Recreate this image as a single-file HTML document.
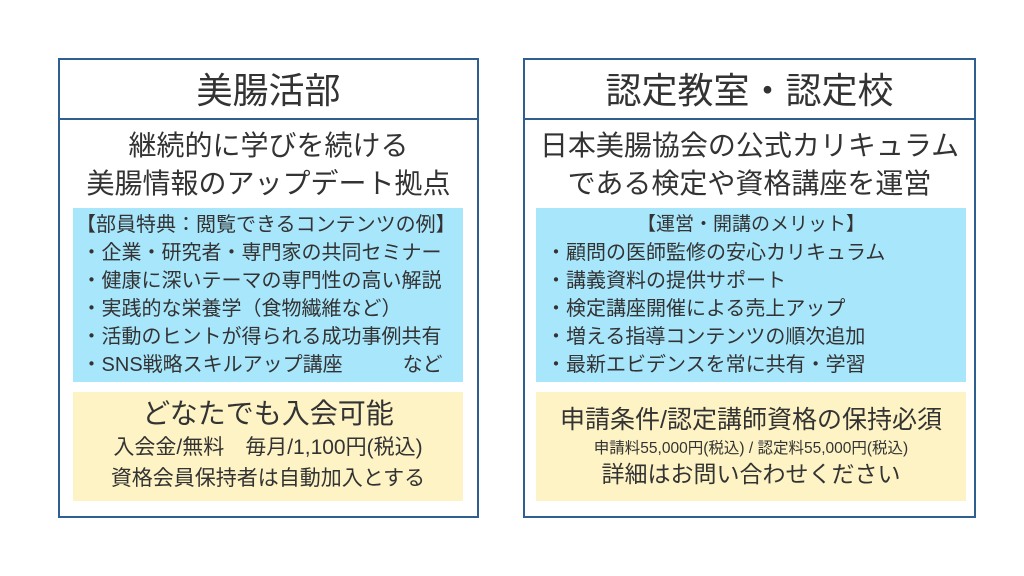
<!DOCTYPE html><html><head><meta charset="utf-8"><style>
body{margin:0;width:1024px;height:576px;background:#fff;position:relative;overflow:hidden;font-family:"Liberation Sans","Noto Sans CJK JP",sans-serif;color:#333}
.b{position:absolute;border:2px solid #2f5f8f;box-sizing:border-box}
.d{position:absolute;height:2px;background:#2f5f8f}
.t{position:absolute;white-space:nowrap}
.c{text-align:center}
.blue{position:absolute;background:#a8e6fb}
.yel{position:absolute;background:#fdf3c4}
</style></head><body>
<div class="b" style="left:58px;top:58px;width:421px;height:460px"></div>
<div class="d" style="left:60px;top:118px;width:417px"></div>
<div class="t c" style="left:58px;width:421px;top:67px;font-size:36px;line-height:48px">美腸活部</div>
<div class="t c" style="left:58px;width:421px;top:127px;font-size:28px;line-height:38px">継続的に学びを続ける<br>美腸情報のアップデート拠点</div>
<div class="blue" style="left:73px;top:208px;width:390px;height:174px"></div>
<div class="t" style="left:76px;top:211px;font-size:20px;line-height:28px">【部員特典：閲覧できるコンテンツの例】<br>&nbsp;・企業・研究者・専門家の共同セミナー<br>&nbsp;・健康に深いテーマの専門性の高い解説<br>&nbsp;・実践的な栄養学（食物繊維など）<br>&nbsp;・活動のヒントが得られる成功事例共有<br>&nbsp;・SNS戦略スキルアップ講座　　　など</div>
<div class="yel" style="left:73px;top:392px;width:390px;height:109px"></div>
<div class="t c" style="left:73px;width:390px;top:397px;font-size:28px;line-height:34px">どなたでも入会可能</div>
<div class="t c" style="left:73px;width:390px;top:432px;font-size:21px;line-height:31px">入会金/無料　毎月/1,100円(税込)<br>資格会員保持者は自動加入とする</div>

<div class="b" style="left:523px;top:58px;width:453px;height:460px"></div>
<div class="d" style="left:525px;top:118px;width:449px"></div>
<div class="t c" style="left:523px;width:453px;top:67px;font-size:36px;line-height:48px">認定教室・認定校</div>
<div class="t c" style="left:523px;width:453px;top:127px;font-size:28px;line-height:38px">日本美腸協会の公式カリキュラム<br>である検定や資格講座を運営</div>
<div class="blue" style="left:536px;top:208px;width:430px;height:174px"></div>
<div class="t c" style="left:536px;width:430px;top:211px;font-size:19px;line-height:28px">【運営・開講のメリット】</div>
<div class="t" style="left:546px;top:239px;font-size:20px;line-height:28px">・顧問の医師監修の安心カリキュラム<br>・講義資料の提供サポート<br>・検定講座開催による売上アップ<br>・増える指導コンテンツの順次追加<br>・最新エビデンスを常に共有・学習</div>
<div class="yel" style="left:536px;top:392px;width:430px;height:109px"></div>
<div class="t c" style="left:536px;width:430px;top:404px;font-size:25px;line-height:32px">申請条件/認定講師資格の保持必須</div>
<div class="t c" style="left:536px;width:430px;top:439px;font-size:15.5px;line-height:20px">申請料55,000円(税込) / 認定料55,000円(税込)</div>
<div class="t c" style="left:536px;width:430px;top:459px;font-size:23px;line-height:30px">詳細はお問い合わせください</div>
</body></html>
